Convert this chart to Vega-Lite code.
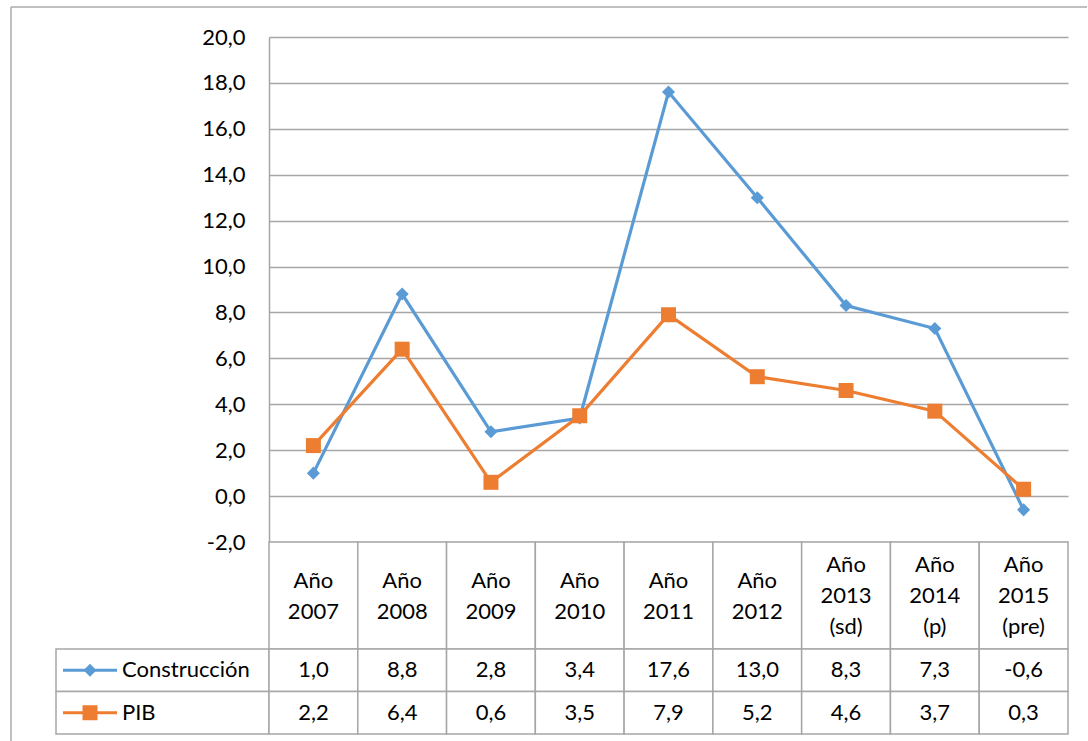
{
  "$schema": "https://vega.github.io/schema/vega-lite/v6.json",
  "padding": {"left": 10, "top": 6, "right": 0, "bottom": 0},
  "background": "white",
  "data": {
    "values": [
      {"cat": "Año 2007", "serie": "Construcción", "valor": 1.0},
      {"cat": "Año 2008", "serie": "Construcción", "valor": 8.8},
      {"cat": "Año 2009", "serie": "Construcción", "valor": 2.8},
      {"cat": "Año 2010", "serie": "Construcción", "valor": 3.4},
      {"cat": "Año 2011", "serie": "Construcción", "valor": 17.6},
      {"cat": "Año 2012", "serie": "Construcción", "valor": 13.0},
      {"cat": "Año 2013 (sd)", "serie": "Construcción", "valor": 8.3},
      {"cat": "Año 2014 (p)", "serie": "Construcción", "valor": 7.3},
      {"cat": "Año 2015 (pre)", "serie": "Construcción", "valor": -0.6},
      {"cat": "Año 2007", "serie": "PIB", "valor": 2.2},
      {"cat": "Año 2008", "serie": "PIB", "valor": 6.4},
      {"cat": "Año 2009", "serie": "PIB", "valor": 0.6},
      {"cat": "Año 2010", "serie": "PIB", "valor": 3.5},
      {"cat": "Año 2011", "serie": "PIB", "valor": 7.9},
      {"cat": "Año 2012", "serie": "PIB", "valor": 5.2},
      {"cat": "Año 2013 (sd)", "serie": "PIB", "valor": 4.6},
      {"cat": "Año 2014 (p)", "serie": "PIB", "valor": 3.7},
      {"cat": "Año 2015 (pre)", "serie": "PIB", "valor": 0.3}
    ]
  },
  "columns": 2,
  "spacing": 0,
  "bounds": "flush",
  "concat": [
    {
      "width": 213, "height": 505,
      "data": {"values": [{"frame": "marco"}]},
      "layer": [
        {"mark": {"type": "rule", "stroke": "#ABABAB", "strokeWidth": 1.5, "clip": false},
         "encoding": {"x": {"value": -45}, "y": {"value": -30}, "y2": {"value": 704}}},
        {"mark": {"type": "rule", "stroke": "#ABABAB", "strokeWidth": 1.5, "clip": false},
         "encoding": {"y": {"value": -30}, "x": {"value": -45}, "x2": {"value": 1031}}}
      ]
    },
    {
      "width": 799,
      "height": 505,
      "encoding": {
        "x": {"field": "cat", "type": "nominal", "sort": null, "scale": {"type": "point", "padding": 0.5}, "axis": null},
        "y": {
          "field": "valor", "type": "quantitative",
          "scale": {"domain": [-2, 20], "nice": false, "zero": false},
          "axis": {
            "values": [-2, 0, 2, 4, 6, 8, 10, 12, 14, 16, 18, 20],
            "format": ".1f", "title": null, "grid": true, "gridColor": "#A6A6A6", "gridWidth": 1.5,
            "domainColor": "#A6A6A6", "domainWidth": 1.5, "ticks": false, "labelPadding": 24,
            "labelFontSize": 22, "labelColor": "#000000", "labelOverlap": false, "labelFlush": false
          }
        },
        "color": {"field": "serie", "type": "nominal", "scale": {"domain": ["Construcción", "PIB"], "range": ["#5B9BD5", "#ED7D31"]}, "legend": null}
      },
      "layer": [
        {"mark": {"type": "line", "strokeWidth": 3.2}},
        {
          "mark": {"type": "point", "filled": true, "opacity": 1},
          "encoding": {
            "shape": {"field": "serie", "type": "nominal", "scale": {"domain": ["Construcción", "PIB"], "range": ["diamond", "square"]}, "legend": null},
            "size": {"field": "serie", "type": "nominal", "scale": {"domain": ["Construcción", "PIB"], "range": [170, 225]}, "legend": null}
          }
        }
      ]
    },
    {"width": 213, "height": 107, "data": {"values": []}, "mark": "rect", "encoding": {}},
    {
      "width": 799,
      "height": 107,
      "transform": [{"filter": "datum.serie === 'PIB'"}],
      "encoding": {
        "x": {"field": "cat", "type": "nominal", "sort": null, "scale": {"type": "band", "paddingInner": 0, "paddingOuter": 0}, "axis": null}
      },
      "layer": [
        {"mark": {"type": "rect", "fill": "white", "stroke": "#A6A6A6", "strokeWidth": 1.5}},
        {"transform": [{"filter": "indexof(datum.cat, '(') < 0"}],
         "mark": {"type": "text", "fontSize": 22, "lineBreak": " ", "lineHeight": 31, "baseline": "middle", "align": "center", "dy": -15, "color": "#000000"},
         "encoding": {"text": {"field": "cat"}}},
        {"transform": [{"filter": "indexof(datum.cat, '(') >= 0"}],
         "mark": {"type": "text", "fontSize": 22, "lineBreak": " ", "lineHeight": 31, "baseline": "middle", "align": "center", "dy": -31, "color": "#000000"},
         "encoding": {"text": {"field": "cat"}}}
      ]
    },
    {
      "width": 213,
      "height": 85,
      "transform": [{"filter": "datum.cat === 'Año 2007'"}],
      "encoding": {
        "y": {"field": "serie", "type": "nominal", "sort": null, "scale": {"type": "band", "domain": ["Construcción", "PIB"], "paddingInner": 0, "paddingOuter": 0}, "axis": null}
      },
      "layer": [
        {"mark": {"type": "rect", "fill": "white", "stroke": "#A6A6A6", "strokeWidth": 1.5}},
        {"mark": {"type": "rule", "x": 7, "x2": 61, "strokeWidth": 3.2},
         "encoding": {"color": {"field": "serie", "type": "nominal", "scale": {"domain": ["Construcción", "PIB"], "range": ["#5B9BD5", "#ED7D31"]}, "legend": null}}},
        {"mark": {"type": "point", "x": 34, "filled": true, "opacity": 1},
         "encoding": {
           "color": {"field": "serie", "type": "nominal", "scale": {"domain": ["Construcción", "PIB"], "range": ["#5B9BD5", "#ED7D31"]}, "legend": null},
           "shape": {"field": "serie", "type": "nominal", "scale": {"domain": ["Construcción", "PIB"], "range": ["diamond", "square"]}, "legend": null},
           "size": {"field": "serie", "type": "nominal", "scale": {"domain": ["Construcción", "PIB"], "range": [170, 225]}, "legend": null}
         }},
        {"mark": {"type": "text", "x": 66, "align": "left", "baseline": "middle", "fontSize": 22, "color": "#000000"},
         "encoding": {"text": {"field": "serie"}}}
      ]
    },
    {
      "width": 799,
      "height": 85,
      "encoding": {
        "x": {"field": "cat", "type": "nominal", "sort": null, "scale": {"type": "band", "paddingInner": 0, "paddingOuter": 0}, "axis": null},
        "y": {"field": "serie", "type": "nominal", "sort": null, "scale": {"type": "band", "domain": ["Construcción", "PIB"], "paddingInner": 0, "paddingOuter": 0}, "axis": null}
      },
      "layer": [
        {"mark": {"type": "rect", "fill": "white", "stroke": "#A6A6A6", "strokeWidth": 1.5}},
        {"mark": {"type": "text", "fontSize": 22, "baseline": "middle", "align": "center", "color": "#000000"},
         "encoding": {"text": {"field": "valor", "type": "quantitative", "format": ".1f"}}}
      ]
    }
  ],
  "config": {
    "font": "Lato",
    "view": {"stroke": null},
    "locale": {"number": {"decimal": ",", "thousands": ".", "grouping": [3], "currency": ["", " €"], "minus": "-"}}
  }
}
